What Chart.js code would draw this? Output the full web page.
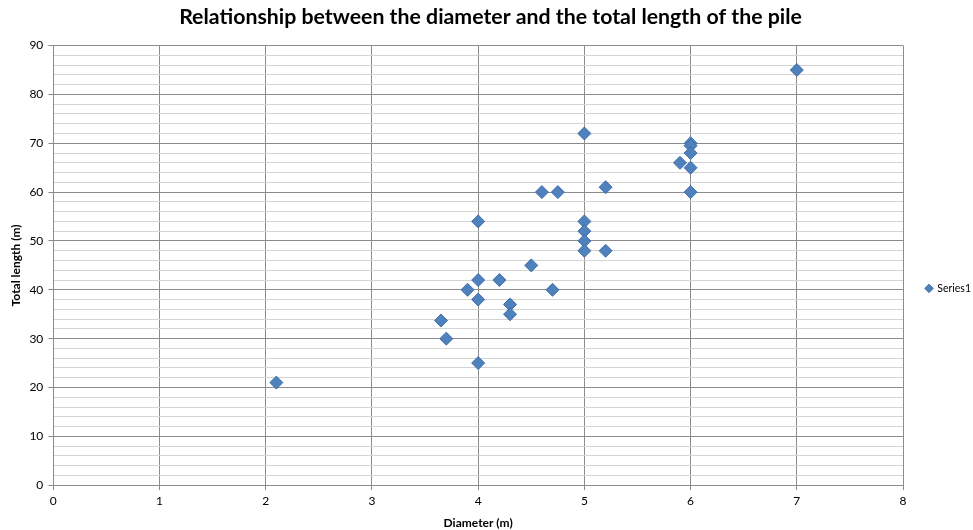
<!DOCTYPE html>
<html><head><meta charset="utf-8">
<script src="https://cdn.jsdelivr.net/npm/chart.js@4"></script>
<style>html,body{margin:0;padding:0;background:#fff}#wrap{width:973px;height:530px}</style>
</head><body><div id="wrap"><canvas id="c" width="973" height="530"></canvas></div>
<script>
const diameters = [2.1, 3.65, 3.7, 3.9, 4, 4, 4, 4, 4.2, 4.3, 4.3, 4.5, 4.6, 4.75, 4.7, 5, 5, 5, 5, 5, 5.2, 5.2, 5.9, 6, 6, 6, 6, 6, 7];
const lengths   = [21, 33.7, 30, 40, 25, 38, 42, 54, 42, 37, 35, 45, 60, 60, 40, 72, 54, 52, 50, 48, 61, 48, 66, 70, 69.5, 68, 65, 60, 85];
const seriesName = 'Series1';
const titleText = 'Relationship between the diameter and the total length of the pile';
const xTitle = 'Diameter (m)';
const yTitle = 'Total length (m)';

const points = diameters.map((d, i) => ({x: d, y: lengths[i]}));

new Chart(document.getElementById('c'), {
  type: 'scatter',
  data: { datasets: [{
    label: seriesName,
    data: points,
    pointStyle: 'rectRot',
    pointRadius: 6.5,
    pointHoverRadius: 6.5,
    backgroundColor: '#4F81BD',
    borderColor: '#3F6FA8',
    borderWidth: 1
  }]},
  options: {
    responsive: false,
    animation: false,
    layout: { padding: { left: 0, right: -8, top: 0, bottom: 0 } },
    plugins: {
      title: { display: true, text: titleText, color: '#000',
        font: { family: 'Lato', size: 21.3, weight: 'bold' }, padding: { top: 4, bottom: 16 } },
      legend: { position: 'right', align: 'center',
        title: { display: true, text: ' ', font: { size: 4 }, padding: { top: 42, bottom: 0 } },
        labels: { usePointStyle: true, pointStyle: 'rectRot', boxWidth: 6, boxHeight: 6, color: '#000',
          font: { family: 'Lato', size: 10.5 }, padding: 23 } },
      tooltip: { enabled: false }
    },
    scales: {
      x: { type: 'linear', min: 0, max: 8,
        ticks: { stepSize: 1, color: '#000', font: { family: 'Lato', size: 12 }, padding: 4 },
        grid: { color: '#8c8c8c', lineWidth: 1, tickLength: 5, tickColor: '#8c8c8c' },
        border: { color: '#8c8c8c' },
        title: { display: true, text: xTitle, color: '#000', font: { family: 'Lato', size: 12, weight: 'bold' }, padding: { top: 3, bottom: 0 } }
      },
      y: { type: 'linear', min: 0, max: 90,
        ticks: { stepSize: 2, autoSkip: false, color: '#000', font: { family: 'Lato', size: 12 }, padding: 5,
          callback: v => (v % 10 === 0 ? v : '') },
        grid: { lineWidth: 1, tickLength: 5,
          color: ctx => (ctx.tick && ctx.tick.value % 10 === 0 ? '#8c8c8c' : '#d4d4d4'),
          tickColor: ctx => (ctx.tick && ctx.tick.value % 10 === 0 ? '#8c8c8c' : 'rgba(0,0,0,0)') },
        border: { color: '#8c8c8c' },
        title: { display: true, text: yTitle, color: '#000', font: { family: 'Lato', size: 12, weight: 'bold' }, padding: { top: 9, bottom: 1 } }
      }
    }
  }
});
</script></body></html>
